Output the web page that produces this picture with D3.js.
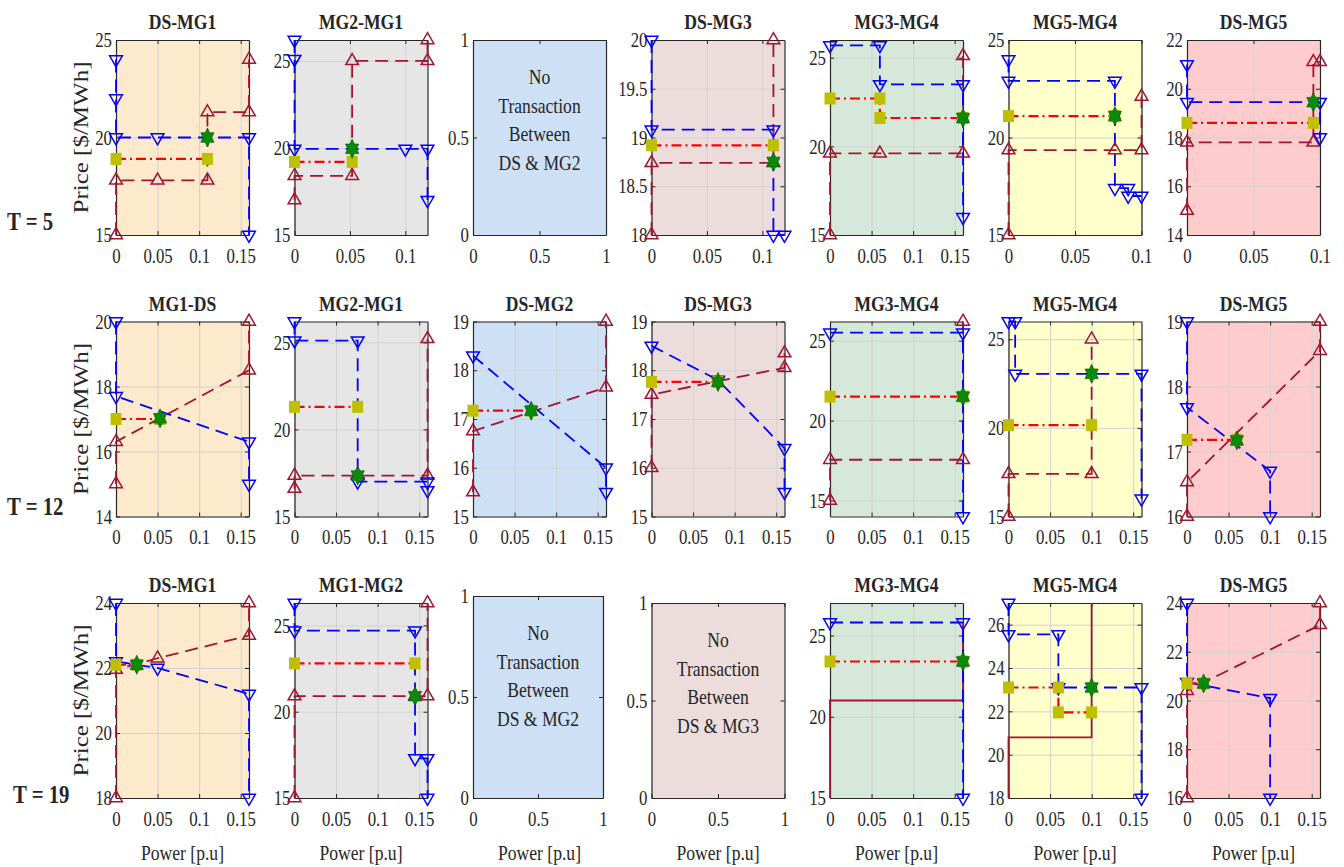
<!DOCTYPE html>
<html>
<head>
<meta charset="utf-8">
<script src="https://cdn.jsdelivr.net/npm/d3@7"></script>
<style>
  body { margin: 0; background: #fff; }
  svg text { font-family: "Liberation Serif", "Times New Roman", serif; fill: #262626; }
  .tick text { font-size: 21px; }
  .sq { transform-box: fill-box; transform-origin: center; transform: scaleX(0.8); }
  .sqr { transform-box: fill-box; transform-origin: right center; transform: scaleX(0.8); }
  .sql { transform-box: fill-box; transform-origin: left center; transform: scaleX(0.8); }
</style>
</head>
<body>
<svg id="chart" width="1344" height="867"></svg>
<script>
// one entry per column; rows are the hours T = 5, 12, 19
var rowLabels = ["T = 5", "T = 12", "T = 19"];
var colColors = ["#fde9cc", "#e6e6e6", "#cde0f5", "#eddcdc", "#d5e8d9", "#ffffcc", "#fecccc"];

// ---- T = 5 ----
var titlesT5 = ["DS-MG1", "MG2-MG1", "", "DS-MG3", "MG3-MG4", "MG5-MG4", "DS-MG5"];
var emptyT5 = [null, null, "DS & MG2", null, null, null, null];
var xMaxT5 = [0.16, 0.12, 1, 0.12, 0.16, 0.1, 0.1];
var xTicksT5 = [[0, 0.05, 0.1, 0.15], [0, 0.05, 0.1], [0, 0.5, 1], [0, 0.05, 0.1], [0, 0.05, 0.1, 0.15], [0, 0.05, 0.1], [0, 0.05, 0.1]];
var yDomT5 = [[15, 25], [15, 26.2], [0, 1], [18, 20], [15, 26], [15, 25], [14, 22]];
var yTicksT5 = [[15, 20, 25], [15, 20, 25], [0, 0.5, 1], [18, 18.5, 19, 19.5, 20], [15, 20, 25], [15, 20, 25], [14, 16, 18, 20, 22]];
var buyT5 = [
  [[0, 24], [0, 22], [0, 20], [0.05, 20], [0.16, 20], [0.16, 15]],
  [[0, 26.2], [0, 25.1], [0, 19.95], [0.1, 19.95], [0.12, 19.95], [0.12, 17]],
  null,
  [[0, 20], [0, 19.08], [0.11, 19.08], [0.11, 18], [0.12, 18]],
  [[0, 25.7], [0.06, 25.7], [0.06, 23.5], [0.16, 23.5], [0.16, 16]],
  [[0, 24], [0, 22.9], [0.08, 22.9], [0.08, 17.4], [0.09, 17.4], [0.09, 17], [0.1, 17]],
  [[0, 21], [0, 19.45], [0.1, 19.45], [0.1, 18]]
];
var sellT5 = [
  [[0, 15], [0, 17.8], [0.05, 17.8], [0.11, 17.8], [0.11, 21.3], [0.16, 21.3], [0.16, 24]],
  [[0, 17], [0, 18.4], [0.052, 18.4], [0.052, 25], [0.12, 25], [0.12, 26.2]],
  null,
  [[0, 18], [0, 18.74], [0.11, 18.74], [0.11, 20]],
  [[0, 15], [0, 19.6], [0.06, 19.6], [0.16, 19.6], [0.16, 25.1]],
  [[0, 15], [0, 19.35], [0.08, 19.35], [0.1, 19.35], [0.1, 22.1]],
  [[0, 15], [0, 17.8], [0.095, 17.8], [0.095, 21.1], [0.1, 21.1]]
];
var solidT5 = [false, false, false, false, false, false, false];
var clearT5 = [
  [[0, 18.9], [0.11, 18.9]],
  [[0, 19.2], [0.052, 19.2]],
  null,
  [[0, 18.92], [0.11, 18.92]],
  [[0, 22.7], [0.06, 22.7], [0.06, 21.6], [0.16, 21.6]],
  [[0, 21.1], [0.08, 21.1]],
  [[0, 18.6], [0.095, 18.6]]
];
var eqT5 = [[0.11, 20], [0.052, 19.95], null, [0.11, 18.75], [0.16, 21.6], [0.08, 21.1], [0.095, 19.45]];

// ---- T = 12 ----
var titlesT12 = ["MG1-DS", "MG2-MG1", "DS-MG2", "DS-MG3", "MG3-MG4", "MG5-MG4", "DS-MG5"];
var emptyT12 = [null, null, null, null, null, null, null];
var xMaxT12 = [0.16, 0.16, 0.16, 0.16, 0.16, 0.16, 0.16];
var xTicksT12 = [[0, 0.05, 0.1, 0.15], [0, 0.05, 0.1, 0.15], [0, 0.05, 0.1, 0.15], [0, 0.05, 0.1, 0.15], [0, 0.05, 0.1, 0.15], [0, 0.05, 0.1, 0.15], [0, 0.05, 0.1, 0.15]];
var yDomT12 = [[14, 20], [15, 26.2], [15, 19], [15, 19], [14, 26.2], [15, 26], [16, 19]];
var yTicksT12 = [[14, 16, 18, 20], [15, 20, 25], [15, 16, 17, 18, 19], [15, 16, 17, 18, 19], [15, 20, 25], [15, 20, 25], [16, 17, 18, 19]];
var buyT12 = [
  [[0, 20], [0, 17.7], [0.16, 16.3], [0.16, 15]],
  [[0, 26.2], [0, 25.1], [0.076, 25.1], [0.076, 17], [0.16, 17], [0.16, 16.5]],
  [[0, 18.3], [0.16, 16.0], [0.16, 15.5]],
  [[0, 18.5], [0.08, 17.8], [0.16, 16.4], [0.16, 15.5]],
  [[0, 25.5], [0.16, 25.5], [0.16, 14]],
  [[0, 26], [0.008, 26], [0.008, 23.05], [0.16, 23.05], [0.16, 16]],
  [[0, 19], [0, 17.68], [0.1, 16.7], [0.1, 16]]
];
var sellT12 = [
  [[0, 15], [0, 16.3], [0.16, 18.5], [0.16, 20]],
  [[0, 16.6], [0, 17.35], [0.076, 17.35], [0.16, 17.35], [0.16, 25.2]],
  [[0, 15.5], [0, 16.75], [0.16, 17.65], [0.16, 19]],
  [[0, 16], [0, 17.5], [0.16, 18.05], [0.16, 18.35]],
  [[0, 15], [0, 17.55], [0.16, 17.55], [0.16, 26.2]],
  [[0, 15], [0, 17.4], [0.1, 17.4], [0.1, 25]],
  [[0, 16], [0, 16.53], [0.16, 18.55], [0.16, 19]]
];
var solidT12 = [false, false, false, false, false, false, false];
var clearT12 = [
  [[0, 17], [0.053, 17]],
  [[0, 21.3], [0.076, 21.3]],
  [[0, 17.17], [0.07, 17.17]],
  [[0, 17.76], [0.08, 17.76]],
  [[0, 21.5], [0.16, 21.5]],
  [[0, 20.15], [0.1, 20.15]],
  [[0, 17.18], [0.06, 17.18]]
];
var eqT12 = [[0.053, 17.02], [0.076, 17.35], [0.07, 17.17], [0.08, 17.76], [0.16, 21.5], [0.1, 23.05], [0.06, 17.17]];

// ---- T = 19 ----
var titlesT19 = ["DS-MG1", "MG1-MG2", "", "", "MG3-MG4", "MG5-MG4", "DS-MG5"];
var emptyT19 = [null, null, "DS & MG2", "DS & MG3", null, null, null];
var xMaxT19 = [0.16, 0.16, 1, 1, 0.16, 0.16, 0.16];
var xTicksT19 = [[0, 0.05, 0.1, 0.15], [0, 0.05, 0.1, 0.15], [0, 0.5, 1], [0, 0.5, 1], [0, 0.05, 0.1, 0.15], [0, 0.05, 0.1, 0.15], [0, 0.05, 0.1, 0.15]];
var yDomT19 = [[18, 24], [15, 26.3], [0, 1], [0, 1], [15, 27], [18, 27], [16, 24]];
var yTicksT19 = [[18, 20, 22, 24], [15, 20, 25], [0, 0.5, 1], [0, 0.5, 1], [15, 20, 25], [18, 20, 22, 24, 26], [16, 18, 20, 22, 24]];
var buyT19 = [
  [[0, 24], [0, 22.2], [0.05, 22.0], [0.16, 21.2], [0.16, 18]],
  [[0, 26.3], [0, 24.7], [0.145, 24.7], [0.145, 17.3], [0.16, 17.3], [0.16, 15]],
  null,
  null,
  [[0, 25.8], [0.16, 25.8], [0.16, 15]],
  [[0, 27], [0, 25.55], [0.06, 25.55], [0.06, 23.1], [0.16, 23.1], [0.16, 18]],
  [[0, 24], [0, 20.75], [0.1, 20.1], [0.1, 16]]
];
var sellT19 = [
  [[0, 18], [0, 21.95], [0.05, 22.3], [0.16, 23], [0.16, 24]],
  [[0, 15], [0, 20.9], [0.145, 20.9], [0.16, 20.9], [0.16, 26.3]],
  null,
  null,
  [[0, 15], [0, 21], [0.16, 21], [0.16, 25.8]],
  [[0, 18], [0, 20.8], [0.1, 20.8], [0.1, 27]],
  [[0, 16], [0, 20.4], [0.16, 23.1], [0.16, 24]]
];
var solidT19 = [false, false, false, false, true, true, false];
var clearT19 = [
  [[0, 22.1], [0.025, 22.1]],
  [[0, 22.8], [0.145, 22.8]],
  null,
  null,
  [[0, 23.4], [0.16, 23.4]],
  [[0, 23.1], [0.06, 23.1], [0.06, 21.95], [0.1, 21.95]],
  [[0, 20.7], [0.02, 20.7]]
];
var eqT19 = [[0.025, 22.1], [0.145, 20.9], null, null, [0.16, 23.4], [0.1, 23.1], [0.02, 20.7]];

var rows = [
  {titles: titlesT5, empty: emptyT5, xMax: xMaxT5, xTicks: xTicksT5, yDom: yDomT5, yTicks: yTicksT5, buy: buyT5, sell: sellT5, solid: solidT5, clear: clearT5, eq: eqT5},
  {titles: titlesT12, empty: emptyT12, xMax: xMaxT12, xTicks: xTicksT12, yDom: yDomT12, yTicks: yTicksT12, buy: buyT12, sell: sellT12, solid: solidT12, clear: clearT12, eq: eqT12},
  {titles: titlesT19, empty: emptyT19, xMax: xMaxT19, xTicks: xTicksT19, yDom: yDomT19, yTicks: yTicksT19, buy: buyT19, sell: sellT19, solid: solidT19, clear: clearT19, eq: eqT19}
];

// layout
var colLeft = 116, colStep = 178.5, plotW = 133, plotH = 195;
var rowTop = [40, 321.5, 603];
var rowLabelY = [230, 515, 803], rowLabelX = [7, 7, 13];
var blue = "#0000ff", darkRed = "#a2142f", red = "#ff0000", olive = "#bfbf00", green = "#0a8a0a";

var svg = d3.select("#chart");
svg.append("rect").attr("width", 1344).attr("height", 867).attr("fill", "#fff");

function hexagram(R) {
  var pts = d3.range(12).map(function(k) {
    var a = -Math.PI / 2 + k * Math.PI / 6, rr = k % 2 ? R / Math.sqrt(3) : R;
    return [rr * Math.cos(a), rr * Math.sin(a)];
  });
  return "M" + pts.join("L") + "Z";
}

function styleAxis(sel) {
  sel.select(".domain").attr("stroke", "#262626").attr("stroke-width", 1.2);
  sel.selectAll(".tick line").attr("stroke", "#262626").attr("stroke-width", 1);
}

function drawPanel(row, r, c) {
  var x0 = colLeft + c * colStep, y0 = rowTop[r], w = plotW, h = plotH;
  if (r === 2 && c === 2) { y0 = 596; h = 202; w = 130; } // this one sits a bit taller in the figure
  var g = svg.append("g").attr("transform", "translate(" + x0 + "," + y0 + ")");
  var x = d3.scaleLinear().domain([0, row.xMax[c]]).range([0, w]);
  var y = d3.scaleLinear().domain(row.yDom[c]).range([h, 0]);
  var xt = row.xTicks[c], yt = row.yTicks[c];
  var note = row.empty[c];

  g.append("rect").attr("width", w).attr("height", h).attr("fill", colColors[c]);

  if (!note) {
    g.append("g").attr("transform", "translate(0," + h + ")")
      .call(d3.axisBottom(x).tickValues(xt).tickSize(-h).tickFormat(""))
      .call(function(s) { s.select(".domain").remove(); })
      .selectAll("line").attr("stroke", "#d2d2d2").attr("stroke-width", 1);
    g.append("g")
      .call(d3.axisLeft(y).tickValues(yt).tickSize(-w).tickFormat(""))
      .call(function(s) { s.select(".domain").remove(); })
      .selectAll("line").attr("stroke", "#d2d2d2").attr("stroke-width", 1);
  }

  var fmt = function(d) { return String(d); };
  g.append("g").attr("transform", "translate(0," + h + ")")
    .call(d3.axisBottom(x).tickValues(xt).tickSizeInner(-4).tickSizeOuter(0).tickPadding(13).tickFormat(fmt))
    .call(styleAxis)
    .selectAll("text").attr("class", "sq");
  g.append("g")
    .call(d3.axisLeft(y).tickValues(yt).tickSizeInner(-4).tickSizeOuter(0).tickPadding(4).tickFormat(fmt))
    .call(styleAxis)
    .selectAll("text").attr("class", "sqr");
  g.append("g")
    .call(d3.axisTop(x).tickValues(xt).tickSizeInner(-4).tickSizeOuter(0).tickFormat(""))
    .call(styleAxis);
  g.append("g").attr("transform", "translate(" + w + ",0)")
    .call(d3.axisRight(y).tickValues(yt).tickSizeInner(-4).tickSizeOuter(0).tickFormat(""))
    .call(styleAxis);

  if (row.titles[c]) {
    g.append("text").attr("class", "sq").attr("x", w / 2).attr("y", -11)
      .attr("text-anchor", "middle").attr("font-weight", "bold").attr("font-size", 22)
      .text(row.titles[c]);
  }

  if (note) {
    ["No", "Transaction", "Between", note].forEach(function(t, i) {
      g.append("text").attr("class", "sq").attr("x", w / 2).attr("y", 44 + i * 28.7)
        .attr("text-anchor", "middle").attr("font-size", 22).text(t);
    });
    return;
  }

  var line = d3.line().x(function(d) { return x(d[0]); }).y(function(d) { return y(d[1]); });
  var solid = row.solid[c];

  g.append("path").attr("d", line(row.sell[c])).attr("fill", "none")
    .attr("stroke", darkRed).attr("stroke-width", 1.8)
    .attr("stroke-dasharray", solid ? null : "13,7");
  g.append("path").attr("d", line(row.buy[c])).attr("fill", "none")
    .attr("stroke", blue).attr("stroke-width", 1.8).attr("stroke-dasharray", "13,7");
  g.append("path").attr("d", line(row.clear[c])).attr("fill", "none")
    .attr("stroke", red).attr("stroke-width", 2.2).attr("stroke-dasharray", "10,4,2,4");

  var tri = d3.symbol().type(d3.symbolTriangle).size(70);
  if (!solid) {
    g.selectAll(".sellMk").data(row.sell[c]).enter().append("path")
      .attr("d", tri).attr("fill", "none").attr("stroke", darkRed).attr("stroke-width", 1.5)
      .attr("transform", function(d) { return "translate(" + x(d[0]) + "," + y(d[1]) + ")"; });
  }
  g.selectAll(".buyMk").data(row.buy[c]).enter().append("path")
    .attr("d", tri).attr("fill", "none").attr("stroke", blue).attr("stroke-width", 1.5)
    .attr("transform", function(d) { return "translate(" + x(d[0]) + "," + y(d[1]) + ") rotate(180)"; });
  g.selectAll(".clearMk").data(row.clear[c]).enter().append("rect")
    .attr("x", function(d) { return x(d[0]) - 5.5; }).attr("y", function(d) { return y(d[1]) - 6; })
    .attr("width", 11).attr("height", 12).attr("fill", olive);

  var e = row.eq[c];
  g.append("path").attr("d", hexagram(9.5)).attr("fill", green).attr("stroke", "#05600a").attr("stroke-width", 0.8)
    .attr("transform", "translate(" + x(e[0]) + "," + y(e[1]) + ") scale(0.8,1)");
}

rows.forEach(function(row, r) {
  for (var c = 0; c < 7; c++) drawPanel(row, r, c);

  svg.append("text").attr("class", "sql").attr("x", rowLabelX[r]).attr("y", rowLabelY[r])
    .attr("font-weight", "bold").attr("font-size", 26).text(rowLabels[r]);

  svg.append("text")
    .attr("transform", "translate(88," + (rowTop[r] + plotH / 2) + ") rotate(-90) scale(1,0.8)")
    .attr("text-anchor", "middle").attr("font-size", 25).text("Price [$/MWh]");
});

for (var c = 0; c < 7; c++) {
  svg.append("text").attr("class", "sq").attr("x", colLeft + c * colStep + plotW / 2).attr("y", 860)
    .attr("text-anchor", "middle").attr("font-size", 22).text("Power [p.u]");
}
</script>
</body>
</html>
